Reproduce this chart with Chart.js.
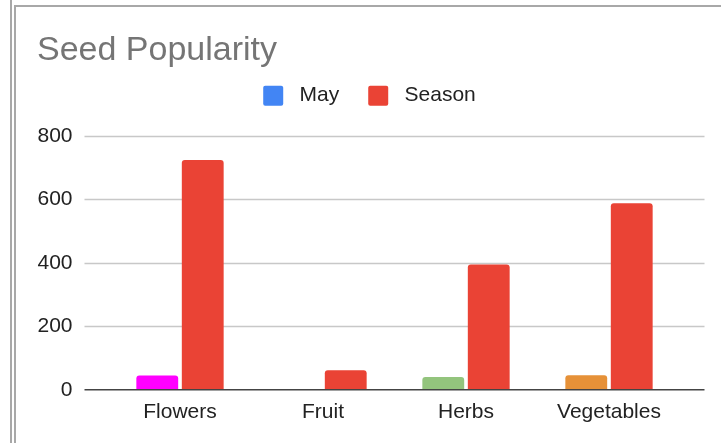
<!DOCTYPE html>
<html>
<head>
<meta charset="utf-8">
<title>Seed Popularity</title>
<script src="https://cdn.jsdelivr.net/npm/chart.js@4.4.1/dist/chart.umd.min.js"></script>
<style>
    html, body { margin: 0; padding: 0; background: #fff; overflow: hidden; }
    #wrap { position: relative; width: 721px; height: 443px; }
    /* sheet frame lines behind the chart */
    .outer-line { position: absolute; left: 10px; top: 0; width: 2px; height: 443px; background: #a8a8a8; }
    .inner-frame { position: absolute; left: 14px; top: 5px; width: 720px; height: 450px;
        border-left: 2px solid #a8a8a8; border-top: 2px solid #a8a8a8; }
    #chartBox { position: absolute; left: 0; top: 0; width: 721px; height: 443px; }
</style>
</head>
<body>
<div id="wrap">
    <div class="outer-line"></div>
    <div class="inner-frame"></div>
    <div id="chartBox"><canvas id="myChart"></canvas></div>
</div>
<script>
// Chart data
const categories = ['Flowers', 'Fruit', 'Herbs', 'Vegetables'];
const mayValues = [45, 0, 40, 46];
const seasonValues = [724, 62, 395, 588];
const yTicks = { min: 0, max: 800, step: 200 };

// Colours
const mayBarColors = ['#ff00ff', '#ff00ff', '#93c47d', '#e69138'];
const legendColors = ['#4285f4', '#ea4335'];
const seasonColor = '#ea4335';

const FONT = "Arial, 'Liberation Sans', sans-serif";
const GRID_OVERHANG = 24;

// Gridlines reach a bit past the bars on both sides
const wideGrid = {
    id: 'wideGrid',
    beforeInit(chart) {
        // extra room under the legend
        const fit = chart.legend.fit;
        chart.legend.fit = function () {
            fit.bind(this)();
            this.height += 19.8;
        };
    },
    beforeDatasetsDraw(chart) {
        const { ctx, chartArea, scales: { y } } = chart;
        ctx.save();
        ctx.strokeStyle = '#c8c8c8';
        ctx.lineWidth = 1.3;
        y.ticks.forEach(t => {
            if (t.value === 0) return;
            const py = Math.round(y.getPixelForValue(t.value)) + 0.5;
            ctx.beginPath();
            ctx.moveTo(chartArea.left - GRID_OVERHANG, py);
            ctx.lineTo(chartArea.right + GRID_OVERHANG, py);
            ctx.stroke();
        });
        ctx.restore();
    },
    afterDatasetsDraw(chart) {
        const { ctx, chartArea, scales: { y } } = chart;
        const py = y.getPixelForValue(0);
        ctx.save();
        ctx.strokeStyle = '#444444';
        ctx.lineWidth = 1.5;
        ctx.beginPath();
        ctx.moveTo(chartArea.left - GRID_OVERHANG, py);
        ctx.lineTo(chartArea.right + GRID_OVERHANG, py);
        ctx.stroke();
        ctx.restore();
    }
};

const ctx = document.getElementById('myChart').getContext('2d');
new Chart(ctx, {
    type: 'bar',
    data: {
        labels: categories,
        datasets: [{
            label: 'May',
            data: mayValues,
            backgroundColor: mayBarColors,
            borderRadius: 3,
            borderSkipped: 'start',
            categoryPercentage: 0.636,
            barPercentage: 0.92
        }, {
            label: 'Season',
            data: seasonValues,
            backgroundColor: seasonColor,
            borderRadius: 3,
            borderSkipped: 'start',
            categoryPercentage: 0.636,
            barPercentage: 0.92
        }]
    },
    options: {
        responsive: true,
        maintainAspectRatio: false,
        animation: false,
        layout: { padding: { left: 37, right: 19, top: 0, bottom: 8 } },
        plugins: {
            title: {
                display: true,
                text: 'Seed Popularity',
                align: 'start',
                color: '#757575',
                font: { family: FONT, size: 34, weight: 'normal' },
                padding: { top: 30, bottom: -14.6 }
            },
            legend: {
                display: true,
                position: 'top',
                align: 'center',
                labels: {
                    color: '#222222',
                    font: { family: FONT, size: 21 },
                    boxWidth: 20,
                    boxHeight: 20,
                    padding: 29,
                    useBorderRadius: true,
                    borderRadius: 2,
                    generateLabels(chart) {
                        const items = Chart.defaults.plugins.legend.labels.generateLabels(chart);
                        return items.map((item, i) => {
                            item.fillStyle = legendColors[i];
                            item.strokeStyle = legendColors[i];
                            item.lineWidth = 0;
                            item.text = ' ' + item.text;
                            return item;
                        });
                    }
                }
            },
            tooltip: { enabled: false }
        },
        scales: {
            x: {
                grid: { display: false, drawTicks: false },
                border: { display: false },
                ticks: {
                    color: '#222222',
                    font: { family: FONT, size: 21 },
                    padding: 10,
                    maxRotation: 0
                }
            },
            y: {
                min: yTicks.min,
                max: yTicks.max,
                grid: { display: false, drawTicks: false },
                border: { display: false },
                ticks: {
                    stepSize: yTicks.step,
                    color: '#222222',
                    font: { family: FONT, size: 21 },
                    padding: 36
                },
                afterFit(scale) { scale.width = 71.5; }
            },
            // empty right-hand band so the plot ends where the reference does
            pad: {
                type: 'linear',
                position: 'right',
                display: true,
                grid: { display: false, drawTicks: false },
                border: { display: false },
                ticks: { display: false },
                afterFit(scale) { scale.width = 21.5; }
            }
        }
    },
    plugins: [wideGrid]
});
</script>
</body>
</html>
